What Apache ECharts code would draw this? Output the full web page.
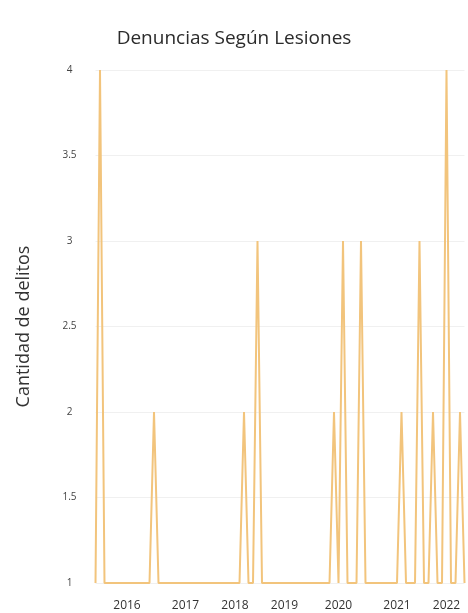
<!DOCTYPE html>
<html>
<head>
<meta charset="utf-8">
<script src="https://cdn.jsdelivr.net/npm/echarts@6/dist/echarts.min.js"></script>
<style>
html,body{margin:0;padding:0;background:#fff;}
#chart{width:468px;height:613px;}
</style>
</head>
<body>
<div id="chart"></div>
<script>
const title = 'Denuncias Según Lesiones';
const yAxisName = 'Cantidad de delitos';
const years = ['2016', '2017', '2018', '2019', '2020', '2021', '2022'];
const counts2016 = [1, 4, 1, 1, 1, 1, 1, 1, 1, 1, 1, 1, 1, 2];
const counts2017 = [1, 1, 1, 1, 1, 1, 1, 1, 1, 1, 1, 1];
const counts2018 = [1, 1, 1, 1, 1, 1, 1, 2, 1, 1, 3];
const counts2019 = [1, 1, 1, 1, 1, 1, 1, 1, 1, 1, 1];
const counts2020 = [1, 1, 1, 1, 1, 2, 1, 3, 1, 1, 1, 3, 1];
const counts2021 = [1, 1, 1, 1, 1, 1, 1, 2, 1, 1, 1, 3];
const counts2022 = [1, 1, 2, 1, 1, 4, 1, 1, 2, 1];
const countsByYear = [counts2016, counts2017, counts2018, counts2019, counts2020, counts2021, counts2022];
const yMin = 1, yMax = 4, yStep = 0.5;

const categories = [];
const values = [];
const labelIdx = {};
years.forEach((y, i) => {
  const arr = countsByYear[i];
  labelIdx[categories.length + Math.floor(arr.length / 2)] = y;
  arr.forEach((v, k) => {
    categories.push(y + '-' + (k + 1));
    values.push(v);
  });
});

const chart = echarts.init(document.getElementById('chart'));
chart.setOption({
  backgroundColor: '#ffffff',
  animation: false,
  title: {
    text: title,
    left: 'center',
    top: 24,
    textStyle: { fontFamily: 'Open Sans', fontSize: 19, fontWeight: 'normal', color: '#2b2b2b' }
  },
  grid: { left: 95.5, right: 3.5, top: 70, bottom: 30, containLabel: false },
  xAxis: {
    type: 'category',
    data: categories,
    boundaryGap: false,
    axisLine: { show: false },
    axisTick: { show: false },
    splitLine: { show: false },
    axisLabel: {
      interval: (idx) => labelIdx[idx] !== undefined,
      formatter: (val, idx) => labelIdx[idx] || '',
      margin: 17,
      fontFamily: 'Open Sans',
      fontSize: 12,
      color: '#333333'
    }
  },
  yAxis: {
    type: 'value',
    min: yMin,
    max: yMax,
    interval: yStep,
    name: yAxisName,
    nameLocation: 'middle',
    nameGap: 63,
    nameTextStyle: { fontFamily: 'Open Sans', fontSize: 18, color: '#333333' },
    axisLine: { show: false },
    axisTick: { show: false },
    splitLine: { lineStyle: { color: '#f0f0f0', width: 1 } },
    axisLabel: {
      margin: 26,
      align: 'center',
      fontFamily: 'Open Sans',
      fontSize: 10,
      color: '#444444',
      formatter: (v) => String(v)
    }
  },
  series: [{
    type: 'line',
    data: values,
    symbol: 'none',
    lineStyle: { color: '#F2C47C', width: 2 },
    itemStyle: { color: '#F2C47C' }
  }]
});
</script>
</body>
</html>
